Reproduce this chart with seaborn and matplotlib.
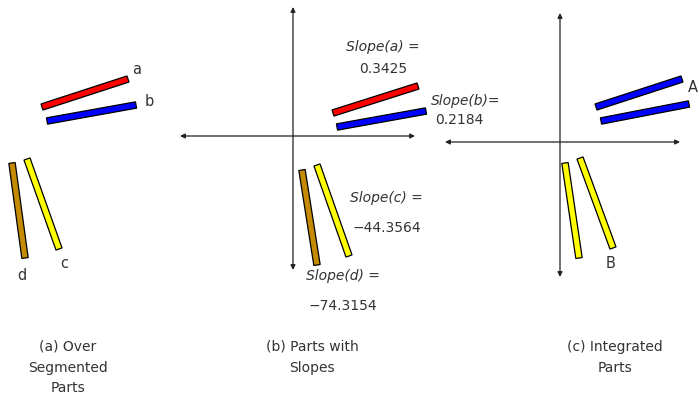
import numpy as np
import seaborn as sns
import matplotlib.pyplot as plt

# segment end points (pixel units, y downward)
seg_x0 = [42, 47, 12, 27, 333, 337, 302, 317, 596, 601, 565, 580]
seg_y0 = [107, 121, 163, 159, 113, 127, 170, 165, 107, 121, 163, 158]
seg_x1 = [128, 136, 25, 59, 418, 426, 317, 349, 682, 689, 579, 613]
seg_y1 = [79, 105, 258, 249, 86, 111, 265, 256, 79, 104, 258, 248]
seg_colors = ['#ff0000', '#0000ff', '#c48a00', '#ffff00',
              '#ff0000', '#0000ff', '#c48a00', '#ffff00',
              '#0000ff', '#0000ff', '#ffff00', '#ffff00']

part_labels = ['a', 'b', 'c', 'd', 'A', 'B']
part_label_x = [137, 149, 64, 22, 693, 611]
part_label_y = [69, 101, 264, 276, 87, 263]

slope_names = ['Slope(a) =', 'Slope(b)=', 'Slope(c) =', 'Slope(d) =']
slope_values = ['0.3425', '0.2184', '\u221244.3564', '\u221274.3154']
slope_name_xy = [(383, 47), (466, 101), (386, 198), (343, 276)]
slope_value_xy = [(383, 69), (459, 120), (387, 228), (343, 306)]

# axes of panels (b) and (c): (x0, x1, y) horizontal and (x, y0, y1) vertical
h_axes = [(180, 415, 136), (445, 680, 142)]
v_axes = [(293, 7, 270), (560, 13, 277)]

captions = ['(a) Over\nSegmented\nParts', '(b) Parts with\nSlopes', '(c) Integrated\nParts']
caption_x = [68, 312, 615]

sns.set_theme(style='white')
plt.rcParams['font.family'] = ['DejaVu Sans']

fig = plt.figure(figsize=(6.99, 3.98), dpi=100)
ax = fig.add_axes([0, 0, 1, 1])
ax.set_xlim(0, 699)
ax.set_ylim(398, 0)
ax.axis('off')

half_w = 3.2
for x0, y0, x1, y1, c in zip(seg_x0, seg_y0, seg_x1, seg_y1, seg_colors):
    d = np.array([x1 - x0, y1 - y0], dtype=float)
    n = np.array([-d[1], d[0]]) / np.hypot(*d) * half_w
    p0 = np.array([x0, y0])
    p1 = np.array([x1, y1])
    corners = np.array([p0 + n, p1 + n, p1 - n, p0 - n])
    ax.fill(corners[:, 0], corners[:, 1], facecolor=c, edgecolor='black', lw=0.9, zorder=3)

arrow = dict(arrowstyle='<|-|>', mutation_scale=7, lw=0.9, color='#222222',
             shrinkA=0, shrinkB=0)
for x0, x1, y in h_axes:
    ax.annotate('', xy=(x1, y), xytext=(x0, y), arrowprops=arrow)
for x, y0, y1 in v_axes:
    ax.annotate('', xy=(x, y1), xytext=(x, y0), arrowprops=arrow)

for lab, x, y in zip(part_labels, part_label_x, part_label_y):
    ax.text(x, y, lab, fontsize=10.5, color='#333333', ha='center', va='center')

for name, (x, y) in zip(slope_names, slope_name_xy):
    ax.text(x, y, name, fontsize=10, style='italic', color='#333333',
            ha='center', va='center', zorder=4)
for val, (x, y) in zip(slope_values, slope_value_xy):
    ax.text(x, y, val, fontsize=10, color='#333333', ha='center', va='center', zorder=4)

for cap, x in zip(captions, caption_x):
    ax.text(x, 340, cap, fontsize=10, color='#333333', ha='center', va='top',
            linespacing=1.6)

fig.savefig('out.png', dpi=100)
